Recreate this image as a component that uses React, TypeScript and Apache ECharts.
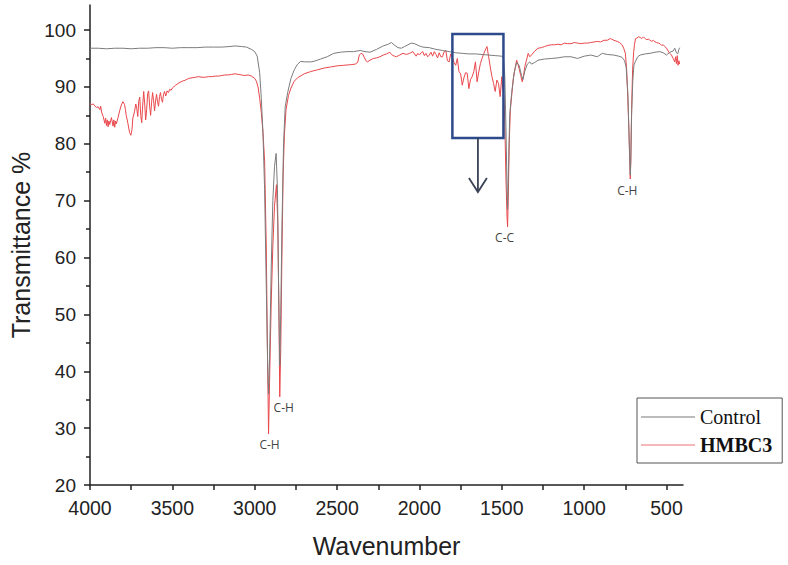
import React, { useEffect, useRef } from "react";
import * as echarts from "echarts";

// FTIR spectra: [wavenumber (cm-1), transmittance (%)]
const controlSpectrum: [number, number][] = [
  [4000, 96.8], [3950, 96.8], [3900, 96.7], [3850, 96.8], [3800, 96.8], [3750, 96.7],
  [3700, 96.8], [3650, 96.8], [3600, 96.9], [3550, 96.9], [3500, 96.8], [3450, 96.9],
  [3400, 96.9], [3350, 96.9], [3300, 97.0], [3250, 97.0], [3200, 97.0], [3150, 97.1],
  [3120, 97.2], [3080, 97.1], [3050, 97.0], [3020, 96.6], [3000, 96.2], [2985, 95.4],
  [2970, 92.5], [2960, 88], [2950, 82], [2940, 72], [2930, 55], [2922, 42], [2916, 36],
  [2910, 42], [2900, 58], [2890, 70], [2880, 76], [2870, 78.3], [2862, 72], [2855, 55],
  [2848, 41], [2842, 50], [2835, 65], [2825, 80], [2815, 86.5], [2800, 89], [2780, 91.5],
  [2760, 93], [2740, 94], [2720, 94.5], [2700, 94.4], [2660, 94.4], [2640, 94.5],
  [2600, 94.9], [2560, 95.3], [2520, 95.9], [2480, 96.1], [2440, 96.2], [2400, 96.2],
  [2360, 96.4], [2330, 96.2], [2300, 96.1], [2260, 96.6], [2220, 97.2], [2190, 97.5],
  [2170, 97.8], [2150, 97.3], [2130, 96.9], [2110, 96.8], [2090, 97.1], [2070, 97.4],
  [2050, 97.7], [2030, 97.6], [2000, 97.2], [1980, 97.0], [1940, 96.9], [1900, 96.6],
  [1860, 96.4], [1820, 96.2], [1780, 96.0], [1740, 95.9], [1700, 95.8], [1660, 95.8],
  [1620, 95.7], [1580, 95.6], [1540, 95.5], [1500, 95.4], [1490, 95.0], [1482, 92],
  [1475, 83], [1468, 72], [1465, 68.5], [1460, 75], [1452, 85], [1440, 89], [1425, 92.5],
  [1410, 94.3], [1395, 93.8], [1380, 92.0], [1372, 91.3], [1360, 92.8], [1345, 94],
  [1330, 94.4], [1320, 94.0], [1300, 94.3], [1280, 94.7], [1240, 94.9], [1200, 95.0],
  [1160, 95.1], [1120, 95.3], [1080, 95.3], [1040, 95.0], [1000, 95.4], [960, 95.6],
  [920, 95.3], [890, 95.9], [860, 95.7], [820, 95.6], [790, 95.4], [770, 95.2],
  [755, 94.6], [745, 93.5], [735, 89], [728, 82], [722, 76], [720, 74.5], [717, 77],
  [712, 85], [705, 91], [698, 93.8], [690, 94.4], [675, 95.3], [660, 95.6], [630, 95.8],
  [600, 95.9], [570, 96.1], [540, 96.2], [520, 96.0], [500, 95.6], [480, 96.1],
  [460, 96.3], [450, 96.8], [440, 96.0], [432, 95.8], [425, 96.6], [420, 96.9],
];

const hmbc3Spectrum: [number, number][] = [
  [4000, 87.0], [3990, 86.9], [3980, 87.0], [3970, 86.6], [3960, 86.4], [3950, 86.5],
  [3940, 86.0], [3935, 86.6], [3930, 85.6], [3920, 84.8], [3910, 83.6], [3905, 84.5],
  [3900, 83.2], [3895, 84.2], [3890, 83.0], [3885, 84.0], [3880, 83.4], [3870, 84.6],
  [3860, 83.1], [3855, 84.2], [3850, 82.9], [3845, 84.0], [3840, 83.5], [3830, 84.6],
  [3820, 85.8], [3810, 86.8], [3800, 87.4], [3790, 86.9], [3785, 86.0], [3780, 85.0],
  [3770, 83.6], [3760, 82.0], [3752, 81.5], [3745, 82.5], [3740, 84.5], [3730, 85.6],
  [3722, 87.0], [3716, 86.2], [3710, 84.8], [3704, 87.5], [3698, 88.2], [3692, 85.0],
  [3686, 83.7], [3680, 86.8], [3674, 89.2], [3668, 87.0], [3662, 84.2], [3656, 86.0],
  [3650, 88.8], [3644, 89.3], [3638, 86.6], [3632, 85.0], [3626, 87.3], [3620, 89.0],
  [3614, 87.6], [3608, 85.8], [3602, 87.5], [3596, 88.7], [3590, 87.4], [3584, 86.6],
  [3578, 88.3], [3572, 89.0], [3566, 87.8], [3560, 87.3], [3554, 88.6], [3548, 89.2],
  [3540, 88.4], [3532, 89.3], [3524, 89.0], [3516, 89.6], [3508, 89.4], [3500, 89.8],
  [3480, 90.3], [3460, 90.7], [3440, 91.0], [3420, 91.2], [3400, 91.5], [3380, 91.6],
  [3360, 91.7], [3340, 91.8], [3320, 91.7], [3300, 91.7], [3280, 91.8], [3260, 91.8],
  [3240, 91.9], [3220, 91.9], [3200, 92.0], [3180, 92.1], [3160, 92.1], [3140, 92.2],
  [3120, 92.3], [3100, 92.2], [3080, 92.1], [3060, 92.0], [3040, 92.1], [3020, 91.9],
  [3000, 91.5], [2990, 91.0], [2980, 90.0], [2970, 88.0], [2960, 85.5], [2950, 82],
  [2940, 77], [2930, 62], [2922, 42], [2916, 29], [2910, 38], [2900, 52], [2890, 62],
  [2880, 69], [2868, 72.8], [2860, 66], [2853, 50], [2848, 35.5], [2842, 44], [2835, 60],
  [2828, 74], [2820, 81.5], [2810, 86], [2795, 88.5], [2780, 89.8], [2760, 91],
  [2740, 91.6], [2700, 92.3], [2660, 92.7], [2620, 93.0], [2580, 93.3], [2540, 93.5],
  [2500, 93.7], [2460, 93.8], [2420, 93.9], [2390, 94.0], [2375, 94.3], [2365, 95.6],
  [2355, 95.9], [2345, 95.8], [2335, 95.2], [2325, 94.6], [2315, 94.4], [2300, 94.7],
  [2280, 95.0], [2260, 95.1], [2240, 95.3], [2220, 95.6], [2200, 95.8], [2180, 96.1],
  [2170, 95.7], [2160, 95.5], [2150, 95.4], [2140, 95.3], [2120, 95.6], [2100, 95.9],
  [2080, 95.7], [2060, 95.9], [2040, 96.2], [2020, 95.4], [2010, 95.9], [2000, 95.6],
  [1990, 96.0], [1980, 96.2], [1970, 95.5], [1960, 95.9], [1950, 95.3], [1940, 95.6],
  [1930, 96.1], [1920, 95.4], [1910, 96.2], [1900, 95.7], [1890, 95.1], [1880, 96.0],
  [1870, 95.3], [1860, 95.3], [1850, 96.2], [1840, 96.4], [1830, 94.6], [1820, 94.4],
  [1810, 95.8], [1800, 95.2], [1790, 94.3], [1780, 93.8], [1770, 95.0], [1760, 92.7],
  [1750, 92.3], [1740, 90.3], [1730, 91.6], [1720, 92.5], [1710, 92.4], [1700, 89.7],
  [1690, 91.3], [1680, 91.8], [1670, 92.7], [1660, 94.4], [1650, 90.9], [1640, 92.6],
  [1630, 94.1], [1620, 95.0], [1610, 95.8], [1600, 96.5], [1590, 97.1], [1580, 95.3],
  [1570, 93.5], [1560, 91.8], [1550, 90.6], [1540, 89.2], [1530, 91.2], [1520, 90.6],
  [1510, 88.3], [1500, 91.8], [1494, 89.5], [1488, 88.5], [1482, 84], [1475, 74],
  [1468, 67], [1465, 65.4], [1461, 70], [1455, 80], [1448, 86], [1440, 88.5],
  [1430, 91.5], [1420, 93.2], [1410, 94.7], [1402, 94.0], [1395, 93.2], [1385, 92.0],
  [1376, 90.9], [1368, 92.0], [1360, 93.6], [1350, 94.7], [1340, 95.9], [1330, 95.3],
  [1320, 95.6], [1300, 96.3], [1280, 96.8], [1260, 96.9], [1240, 97.1], [1220, 97.3],
  [1200, 97.4], [1180, 97.4], [1160, 97.5], [1140, 97.4], [1120, 97.7], [1100, 97.6],
  [1080, 97.6], [1060, 97.8], [1040, 97.7], [1020, 97.6], [1000, 97.7], [980, 97.7],
  [960, 97.8], [940, 97.9], [920, 98.0], [900, 97.9], [880, 98.2], [860, 98.2],
  [840, 98.5], [820, 98.2], [800, 98.0], [785, 97.8], [770, 97.4], [760, 96.8],
  [750, 95.9], [742, 93], [735, 88], [728, 82], [723, 76.5], [720, 73.8], [717, 77],
  [712, 86], [706, 93], [700, 96], [694, 97.5], [688, 98.5], [680, 98.6], [670, 98.8],
  [660, 98.7], [650, 98.5], [640, 98.8], [630, 98.5], [620, 98.3], [610, 98.4],
  [600, 98.2], [590, 98.0], [580, 98.2], [570, 97.9], [560, 97.8], [550, 97.7],
  [540, 97.6], [530, 97.3], [520, 97.4], [510, 97.1], [500, 96.8], [490, 96.3],
  [480, 95.9], [470, 95.6], [460, 95.0], [450, 94.4], [445, 95.3], [440, 94.1],
  [435, 95.5], [430, 93.8], [425, 94.6], [420, 94.0],
];

// Band assignments marked on the HMBC3 trace
const peakWavenumbers = [2916, 2848, 1465, 720];
const peakNames = ["C-H", "C-H", "C-C", "C-H"];

// Axis ticks
const xMajorTicks = [4000, 3500, 3000, 2500, 2000, 1500, 1000, 500];
const xAllTicks = [4000, 3750, 3500, 3250, 3000, 2750, 2500, 2250, 2000, 1750, 1500, 1250, 1000, 750, 500];
const yMajorTicks = [20, 30, 40, 50, 60, 70, 80, 90, 100];
const yMinorTicks = [25, 35, 45, 55, 65, 75, 85, 95];

// Highlighted region (wavenumber range, transmittance range)
const highlightWn = [1800, 1490];
const highlightT = [81, 99.3];

const SANS = "'Liberation Sans', Arial, sans-serif";
const SERIF = "'Liberation Serif', 'Times New Roman', serif";

function tOf(series: [number, number][], wn: number): number {
  const p = series.find((d) => d[0] === wn);
  return p ? p[1] : 0;
}

export default function App() {
  const ref = useRef<HTMLDivElement>(null);

  useEffect(() => {
    document.body.style.margin = "0";
    if (!ref.current) return;
    const chart = echarts.init(ref.current, null, { renderer: "svg" });

    const labelOffsets: [number, number][] = [[1, 0], [4, 0], [-3, 0], [-3, 0]];

    chart.setOption({
      animation: false,
      backgroundColor: "#ffffff",
      grid: { left: 83, right: 105, top: 5, bottom: 80 },
      legend: {
        orient: "vertical",
        left: 637,
        top: 398,
        padding: [9, 10, 8, 4],
        itemGap: 8,
        itemWidth: 54,
        itemHeight: 1.5,
        icon: "rect",
        borderColor: "#555",
        borderWidth: 1,
        borderRadius: 0,
        data: [
          { name: "Control", itemStyle: { color: "#a6a6a6" } },
          { name: "HMBC3", itemStyle: { color: "#f0a0a0" } },
        ],
        formatter: (name: string) => (name === "HMBC3" ? `{b|${name}}` : `{n|${name}}`),
        textStyle: {
          fontFamily: SERIF,
          fontSize: 20,
          color: "#111",
          rich: {
            n: { fontFamily: SERIF, fontSize: 20, color: "#111" },
            b: { fontFamily: SERIF, fontSize: 20, fontWeight: "bold", color: "#111" },
          },
        },
      },
      xAxis: {
        type: "value",
        min: 400,
        max: 4000,
        inverse: true,
        name: "Wavenumber",
        nameLocation: "middle",
        nameGap: 48,
        nameTextStyle: { fontFamily: SANS, fontSize: 25, color: "#222" },
        axisLine: { show: true, lineStyle: { color: "#222", width: 1.5 } },
        axisTick: { show: true, length: 5, customValues: xAllTicks, lineStyle: { color: "#222", width: 1.5 } },
        axisLabel: {
          customValues: xMajorTicks,
          formatter: (v: number) => String(v),
          margin: 13,
          fontFamily: SANS,
          fontSize: 19.5,
          color: "#222",
        },
        splitLine: { show: false },
      },
      yAxis: [
        {
          type: "value",
          min: 20,
          max: 104.4,
          name: "Transmittance %",
          nameLocation: "middle",
          nameGap: 57,
          nameTextStyle: { fontFamily: SANS, fontSize: 25, color: "#222" },
          axisLine: { show: true, lineStyle: { color: "#222", width: 1.5 } },
          axisTick: { show: true, length: 6, customValues: yMajorTicks, lineStyle: { color: "#222", width: 1.5 } },
          axisLabel: {
            customValues: yMajorTicks,
            formatter: (v: number) => String(v),
            margin: 14,
            fontFamily: SANS,
            fontSize: 19,
            color: "#222",
          },
          splitLine: { show: false },
        },
        {
          type: "value",
          min: 20,
          max: 104.4,
          position: "left",
          axisLine: { show: false },
          axisTick: { show: true, length: 4, customValues: yMinorTicks, lineStyle: { color: "#222", width: 1.5 } },
          axisLabel: { show: false },
          splitLine: { show: false },
        },
      ],
      series: [
        {
          name: "HMBC3",
          type: "line",
          data: hmbc3Spectrum,
          symbol: "none",
          showSymbol: false,
          lineStyle: { color: "#e9474b", width: 1 },
          itemStyle: { color: "#e9474b" },
          z: 2,
          markPoint: {
            symbol: "circle",
            symbolSize: 0,
            silent: true,
            label: {
              show: true,
              position: "bottom",
              distance: 5,
              formatter: "{b}",
              fontFamily: "'Open Sans', 'Noto Sans', sans-serif",
              fontSize: 12,
              color: "#444",
            },
            data: peakWavenumbers.map((wn, i) => ({
              name: peakNames[i],
              coord: [wn, tOf(hmbc3Spectrum, wn)],
              label: { offset: labelOffsets[i] },
            })),
          },
        },
        {
          name: "Control",
          type: "line",
          data: controlSpectrum,
          symbol: "none",
          showSymbol: false,
          lineStyle: { color: "#7c7c7c", width: 1 },
          itemStyle: { color: "#7c7c7c" },
          z: 3,
        },
      ],
    });

    // Highlight box with a downward arrow, placed from data coordinates
    const tl = chart.convertToPixel({ gridIndex: 0 }, [highlightWn[0], highlightT[1]]) as number[];
    const br = chart.convertToPixel({ gridIndex: 0 }, [highlightWn[1], highlightT[0]]) as number[];
    const cx = (tl[0] + br[0]) / 2;
    const arrowTop = br[1];
    const arrowTip = br[1] + 54;
    chart.setOption({
      graphic: [
        {
          type: "rect",
          shape: { x: tl[0], y: tl[1], width: br[0] - tl[0], height: br[1] - tl[1] },
          style: { fill: "none", stroke: "#2d4a8a", lineWidth: 2.5 },
          z: 10,
        },
        {
          type: "line",
          shape: { x1: cx, y1: arrowTop, x2: cx, y2: arrowTip },
          style: { stroke: "#3a4256", lineWidth: 1.8 },
          z: 10,
        },
        {
          type: "polyline",
          shape: { points: [[cx - 9, arrowTip - 14], [cx, arrowTip], [cx + 9, arrowTip - 14]] },
          style: { fill: "none", stroke: "#3a4256", lineWidth: 1.8 },
          z: 10,
        },
      ],
    });

    return () => chart.dispose();
  }, []);

  return <div ref={ref} style={{ width: 788, height: 565 }} />;
}
